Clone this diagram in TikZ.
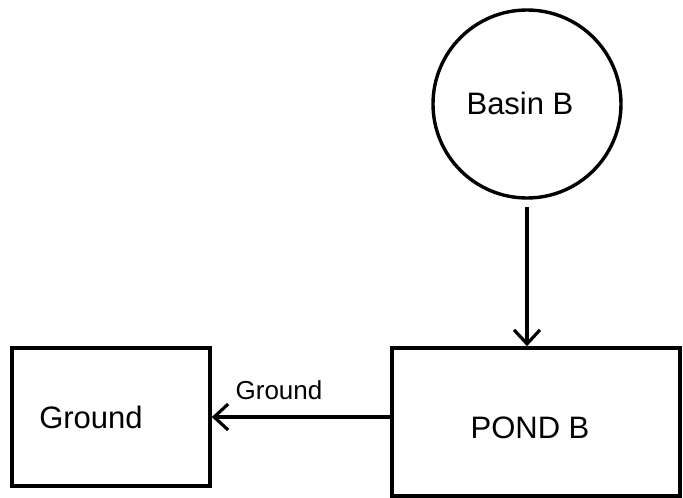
\documentclass[tikz,border=0pt]{standalone}
\usepackage{fontspec}
\setmainfont{Liberation Sans}
\usetikzlibrary{arrows.meta}
\begin{document}
\begin{tikzpicture}[x=1pt,y=-1pt,
  every node/.style={font=\fontsize{31}{33}\selectfont},
  boxnode/.style={draw,line width=3.6pt,rectangle,inner sep=0pt},
  circnode/.style={draw,line width=3.4pt,circle,inner sep=0pt},
  flow/.style={line width=3.2pt,-{Straight Barb[length=14pt,width=26pt,line width=3.2pt]}},
  lbl/.style={font=\fontsize{26}{28}\selectfont}]
\useasboundingbox (0,0) rectangle (683,498);
\node[circnode,minimum size=188pt] (basin) at (527,104) {};
\node (basintext) at (520,103) {Basin B};
\node[boxnode,minimum width=288pt,minimum height=148pt] (pond) at (536,422) {};
\node (pondtext) at (530,428) {POND B};
\node[boxnode,minimum width=198pt,minimum height=138pt] (ground) at (111,417) {};
\node (groundtext) at (91,417) {Ground};
\draw[flow] ([yshift=-7pt]basin.south) -- (basin.south |- pond.north);
\draw[flow] (ground.east -| pond.west) -- (ground.east);
\node[lbl] (flowlbl) at (279,390) {Ground};
\end{tikzpicture}
\end{document}
